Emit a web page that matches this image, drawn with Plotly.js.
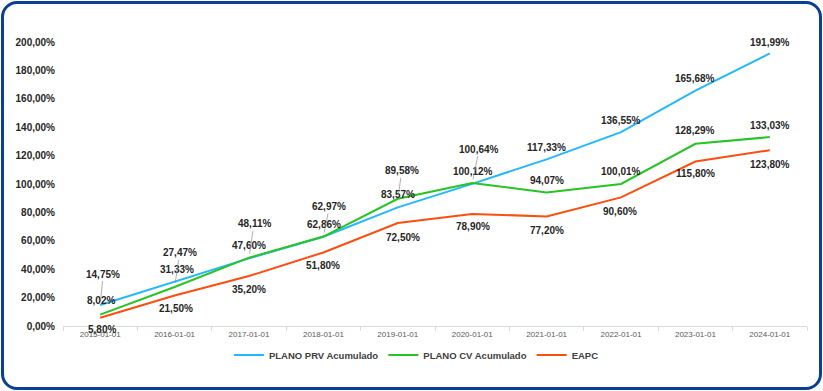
<!DOCTYPE html>
<html><head><meta charset="utf-8">
<script src="https://cdn.plot.ly/plotly-3.0.1.min.js"></script>
<style>
html,body{margin:0;padding:0;background:#fff;}
#wrap{position:relative;width:823px;height:391px;}
#chart{width:823px;height:391px;}
#frame{position:absolute;left:1px;top:1px;width:821px;height:389px;box-sizing:border-box;border:3px solid #0b3f94;border-radius:16px;pointer-events:none;}
</style></head>
<body>
<div id="wrap"><div id="chart"></div><div id="frame"></div></div>
<script>
const categories = ['2015-01-01','2016-01-01','2017-01-01','2018-01-01','2019-01-01','2020-01-01','2021-01-01','2022-01-01','2023-01-01','2024-01-01'];
const prv = [14.75, 31.33, 47.60, 62.86, 83.57, 100.12, 117.33, 136.55, 165.68, 191.99];
const cv  = [8.02, 27.47, 48.11, 62.97, 89.58, 100.64, 94.07, 100.01, 128.29, 133.03];
const eapc = [5.80, 21.50, 35.20, 51.80, 72.50, 78.90, 77.20, 90.60, 115.80, 123.80];
const names = ['PLANO PRV Acumulado','PLANO CV Acumulado','EAPC'];

const colors = ['#22b8fb','#27c423','#fd4d0f'];
// label offsets in px [dx, dy, leader]
const prvOff = [[3,-31,true],[2,-12],[0,-13],[1,-12],[0,-13],[1,-12],[0,-12],[0,-12],[0,-12],[0,-11]];
const cvOff  = [[1,-14],[5,-34,true],[5,-34,true],[6,-30,true],[4,-28,true],[7,-34,true],[0,-12],[0,-12],[0,-13],[0,-12]];
const eapcOff= [[2,12],[1,13],[0,13],[0,13],[5,14],[1,13],[0,14],[-1,14],[0,12],[0,14]];

const fmt = v => v.toFixed(2).replace('.',',') + '%';
const series = [prv, cv, eapc];
const offs = [prvOff, cvOff, eapcOff];
const FONT = 'Liberation Sans, Arial, sans-serif';

const traces = series.map((s,i)=>({
  x: categories, y: s, type:'scatter', mode:'lines', name: names[i],
  line:{color: colors[i], width:2}, hoverinfo:'skip'
}));

const annotations = [];
series.forEach((s,i)=>{
  s.forEach((v,j)=>{
    const o = offs[i][j];
    const base = {x: categories[j], y: v, xref:'x', yref:'y', text: fmt(v),
      font:{family:FONT, size:10, color:'#262626', weight:'bold'}};
    if (o[2]) {
      annotations.push(Object.assign(base, {showarrow:true, arrowhead:0, arrowwidth:0.7, arrowcolor:'#8c8c8c',
        ax:o[0], ay:o[1], standoff:4}));
    } else {
      annotations.push(Object.assign(base, {showarrow:false, xshift:o[0], yshift:-o[1]}));
    }
  });
});

const layout = {
  width:823, height:391,
  margin:{l:63, r:16, t:42, b:65},
  paper_bgcolor:'#fff', plot_bgcolor:'#fff',
  separators:',.',
  showlegend:true,
  legend:{orientation:'h', x:0.475, xanchor:'center', y:-0.102, yanchor:'middle',
    font:{family:FONT, size:9.5, color:'#404040', weight:'bold'},
    itemwidth:30, tracegroupgap:0},
  xaxis:{type:'category', range:[-0.5,9.5], showgrid:false, zeroline:false,
    showline:true, linecolor:'#d9d9d9', linewidth:1,
    ticks:'outside', tickson:'boundaries', ticklen:4, tickcolor:'#d9d9d9',
    tickfont:{family:FONT, size:8, color:'#595959'}},
  yaxis:{range:[0,200], dtick:20, tick0:0, showgrid:false, zeroline:false, showline:false,
    tickformat:'.2f', ticksuffix:'%', ticks:'', ticklabelstandoff:7,
    tickfont:{family:FONT, size:10, color:'#262626', weight:'bold'}},
  annotations: annotations
};

Plotly.newPlot('chart', traces, layout, {displayModeBar:false, staticPlot:true});
</script>
</body></html>
